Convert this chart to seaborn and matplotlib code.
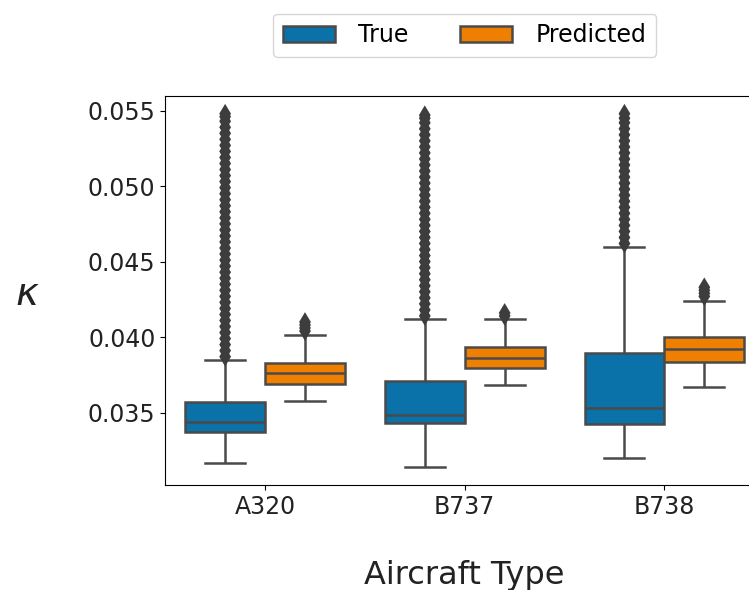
import pandas as pd
import matplotlib
matplotlib.use("Agg")
import matplotlib.pyplot as plt
import seaborn as sns

aircraft = ["A320", "B737", "B738"]
sources = ["True", "Predicted"]
colors = ["#0a72a8", "#ef7f00"]

# five-number summaries: lower whisker, q1, median, q3, upper whisker
true_stats = {
    "A320": [0.03165, 0.03374, 0.03435, 0.03568, 0.03848],
    "B737": [0.03138, 0.03433, 0.03484, 0.03709, 0.04121],
    "B738": [0.03198, 0.03425, 0.03528, 0.03896, 0.04600],
}
pred_stats = {
    "A320": [0.03577, 0.03689, 0.03764, 0.03825, 0.04013],
    "B737": [0.03682, 0.03797, 0.03863, 0.03931, 0.04121],
    "B738": [0.03671, 0.03832, 0.03923, 0.04002, 0.04238],
}

# outliers (dense stripes above the upper whiskers)
true_fliers = {
    "A320": [0.0387, 0.0391, 0.0395, 0.0399, 0.0403, 0.0407, 0.0411, 0.0415, 0.0419,
             0.0423, 0.0427, 0.0431, 0.0435, 0.0439, 0.0443, 0.0447, 0.0451, 0.0455,
             0.0459, 0.0463, 0.0467, 0.0471, 0.0475, 0.0479, 0.0483, 0.0487, 0.0491,
             0.0495, 0.0499, 0.0503, 0.0507, 0.0511, 0.0515, 0.0519, 0.0523, 0.0527,
             0.0531, 0.0535, 0.0539, 0.0543, 0.0546, 0.0548],
    "B737": [0.0414, 0.0418, 0.0422, 0.0426, 0.0430, 0.0434, 0.0438, 0.0442, 0.0446,
             0.0450, 0.0454, 0.0458, 0.0462, 0.0466, 0.0470, 0.0474, 0.0478, 0.0482,
             0.0486, 0.0490, 0.0494, 0.0498, 0.0502, 0.0506, 0.0510, 0.0514, 0.0518,
             0.0522, 0.0526, 0.0530, 0.0534, 0.0538, 0.0542, 0.0545, 0.0547],
    "B738": [0.0462, 0.0466, 0.0470, 0.0474, 0.0478, 0.0482, 0.0486, 0.0490, 0.0494,
             0.0498, 0.0502, 0.0506, 0.0510, 0.0514, 0.0518, 0.0522, 0.0526, 0.0530,
             0.0534, 0.0538, 0.0542, 0.0545, 0.0548],
}
pred_fliers = {
    "A320": [0.0404, 0.0406, 0.0408, 0.0410],
    "B737": [0.0414, 0.0416],
    "B738": [0.0427, 0.0429, 0.0431, 0.0433],
}

rows = []
for a in aircraft:
    for v in true_stats[a]:
        rows.append((a, "True", v))
    for v in pred_stats[a]:
        rows.append((a, "Predicted", v))
box_df = pd.DataFrame(rows, columns=["Aircraft Type", "Source", "kappa"])

rows = []
for a in aircraft:
    for v in true_fliers[a]:
        rows.append((a, "True", v))
    for v in pred_fliers[a]:
        rows.append((a, "Predicted", v))
flier_df = pd.DataFrame(rows, columns=["Aircraft Type", "Source", "kappa"])

plt.rcParams["font.family"] = ["DejaVu Sans"]
line_gray = "#4a4a4a"
flier_gray = "#3d3d3d"
text_color = "#222222"

fig = plt.figure(figsize=(7.49, 5.9), dpi=100)
ax = fig.add_axes([0.2206, 0.1780, 0.7997, 0.6600])

sns.boxplot(data=box_df, x="Aircraft Type", y="kappa", hue="Source",
            order=aircraft, hue_order=sources, palette=colors, saturation=1,
            width=0.8, linewidth=1.8, linecolor=line_gray, showfliers=False, ax=ax)
sns.stripplot(data=flier_df, x="Aircraft Type", y="kappa", hue="Source",
              order=aircraft, hue_order=sources, dodge=True, jitter=False,
              palette=[flier_gray, flier_gray], marker="d", size=10, linewidth=0,
              legend=False, ax=ax)

ax.set_ylim(0.0302, 0.0560)
ax.set_yticks([0.035, 0.040, 0.045, 0.050, 0.055])
ax.set_yticklabels(["0.035", "0.040", "0.045", "0.050", "0.055"])
ax.tick_params(labelsize=17, labelcolor=text_color)
ax.set_xlabel("Aircraft Type", fontsize=23, va="baseline", color=text_color)
ax.xaxis.set_label_coords(0.5, -0.2545)
ax.set_ylabel(r"$\kappa$", fontsize=28, rotation=0, va="center", ha="center",
              color=text_color)
ax.yaxis.set_label_coords(-0.2296, 0.491)

sns.move_legend(ax, "lower center", bbox_to_anchor=(0.5, 1.07), ncol=2,
                title=None, frameon=True, fontsize=17, handlelength=2.2,
                handletextpad=1.0, columnspacing=2.2)

plt.savefig("out.png", dpi=100)
